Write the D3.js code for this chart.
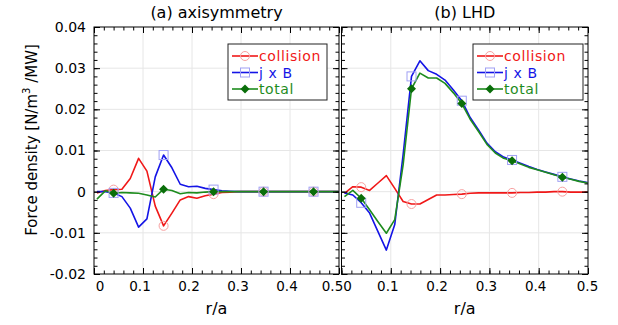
<!DOCTYPE html>
<html>
<head>
<meta charset="utf-8">
<script src="https://cdn.jsdelivr.net/npm/d3@7"></script>
<style>
  body { margin: 0; background: #fff; }
  svg { font-family: "DejaVu Sans", sans-serif; }
</style>
</head>
<body>
<div id="view"></div>
<script>
// r/a grid of the profiles
const rPoints = [0.006, 0.023, 0.040, 0.057, 0.074, 0.091, 0.108, 0.125, 0.142, 0.159,
                 0.176, 0.193, 0.210, 0.227, 0.244, 0.261, 0.278, 0.295, 0.312, 0.329,
                 0.346, 0.363, 0.380, 0.397, 0.414, 0.431, 0.448, 0.465, 0.482, 0.499];
const markerIdx = [2, 8, 14, 20, 26];

const xTicks = [0, 0.1, 0.2, 0.3, 0.4, 0.5];
const xTickLabels = ["0", "0.1", "0.2", "0.3", "0.4", "0.5"];
const yTicks = [-0.02, -0.01, 0, 0.01, 0.02, 0.03, 0.04];
const yTickLabels = ["-0.02", "-0.01", "0", "0.01", "0.02", "0.03", "0.04"];
const seriesNames = ["collision", "j x B", "total"];
const panelTitles = ["(a) axisymmetry", "(b) LHD"];

// (a) axisymmetry
const axiCollision = [-0.0003, 0.0003, 0.0005, 0.0006, 0.0032, 0.0081, 0.0050, -0.0035, -0.0083, -0.0052,
                      -0.0020, -0.0012, -0.0016, -0.0010, -0.0006, -0.0002, -0.0001, 0, 0, 0,
                      0, 0, 0, 0, 0, 0, 0, 0, 0, 0];
const axiJxB = [0, 0, -0.0003, -0.0012, -0.0040, -0.0086, -0.0066, 0.0036, 0.0089, 0.0058,
                0.0018, 0.0012, 0.0013, 0.0008, 0.0005, 0.0002, 0.0001, 0, 0, 0,
                0, 0, 0, 0, 0, 0, 0, 0, 0, 0];
const axiTotal = [-0.0018, 0.0002, -0.0004, -0.0002, -0.0003, -0.0004, -0.0008, -0.0013, 0.0006, 0.0003,
                  -0.0005, -0.0002, -0.0003, -0.0001, 0, 0, 0, 0, 0, 0,
                  0, 0, 0, 0, 0, 0, 0, 0, 0, 0];

// (b) LHD
const lhdCollision = [-0.0004, 0.0012, 0.0011, 0.0003, 0.0021, 0.0039, 0.0008, -0.0024, -0.0030, -0.0030,
                      -0.0019, -0.0008, -0.0008, -0.0007, -0.0006, -0.0004, -0.0003, -0.0003, -0.0003, -0.0003,
                      -0.0003, -0.0002, -0.0002, -0.0001, -0.0001, 0, 0, -0.0001, -0.0001, -0.0001];
const lhdJxB = [-0.0003, -0.0008, -0.0027, -0.0052, -0.0097, -0.0142, -0.0080, 0.0090, 0.0280, 0.0318,
                0.0294, 0.0285, 0.0271, 0.0247, 0.0221, 0.0180, 0.0150, 0.0118, 0.0097, 0.0084,
                0.0077, 0.0069, 0.0061, 0.0054, 0.0048, 0.0042, 0.0036, 0.0031, 0.0026, 0.0022];
const lhdTotal = [-0.0012, 0.0003, -0.0016, -0.0044, -0.0073, -0.0101, -0.0068, 0.0065, 0.0250, 0.0288,
                  0.0276, 0.0276, 0.0263, 0.0240, 0.0214, 0.0176, 0.0146, 0.0115, 0.0094, 0.0081,
                  0.0075, 0.0067, 0.0059, 0.0053, 0.0047, 0.0041, 0.0035, 0.0030, 0.0025, 0.0021];

const lineColors = ["#f01818", "#1414e6", "#1e8c1e"];

const svg = d3.select("#view").append("svg")
  .attr("width", 618)
  .attr("height", 325);

class ForcePanel {
  constructor(id, x0, x1, title, series, legendX, legendW) {
    this.id = id;
    this.x0 = x0;
    this.x1 = x1;
    this.top = 27;
    this.bottom = 274;
    this.mapX = d3.scaleLinear().domain([0, 0.5]).range([x0, x1]);
    this.mapY = d3.scaleLinear().domain([-0.02, 0.04]).range([this.bottom, this.top]);
    this.g = svg.append("g");
    this.series = series;
    this.title = title;
    this.legendX = legendX;
    this.legendW = legendW;
  }

  grid() {
    const g = this.g.append("g").attr("stroke", "#e6e6e6").attr("stroke-width", 1);
    g.selectAll(".gx").data(xTicks.slice(1, -1)).enter().append("line")
      .attr("x1", d => this.mapX(d)).attr("x2", d => this.mapX(d))
      .attr("y1", this.top).attr("y2", this.bottom);
    g.selectAll(".gy").data(yTicks.slice(1, -1)).enter().append("line")
      .attr("x1", this.x0).attr("x2", this.x1)
      .attr("y1", d => this.mapY(d)).attr("y2", d => this.mapY(d));
  }

  lines() {
    svg.append("clipPath").attr("id", "clip" + this.id)
      .append("rect")
      .attr("x", this.x0).attr("y", this.top)
      .attr("width", this.x1 - this.x0).attr("height", this.bottom - this.top);

    const line = d3.line()
      .x((d, i) => this.mapX(rPoints[i]))
      .y(d => this.mapY(d));

    const lg = this.g.append("g").attr("clip-path", `url(#clip${this.id})`);
    this.series.forEach((vals, s) => {
      lg.append("path")
        .attr("d", line(vals))
        .attr("fill", "none")
        .attr("stroke", lineColors[s])
        .attr("stroke-width", 1.6)
        .attr("stroke-linejoin", "round");
    });

    // markers on every sixth point
    this.series.forEach((vals, s) => {
      markerIdx.forEach(i => {
        drawMarker(lg, s, this.mapX(rPoints[i]), this.mapY(vals[i]));
      });
    });
  }

  axes(lastShift) {
    const g = this.g;
    const minorX = d3.range(0, 0.5001, 0.02);
    const minorY = d3.range(-0.02, 0.04001, 0.002);

    const put = (axis, tr) => {
      const a = g.append("g").attr("transform", tr).call(axis);
      a.select(".domain").remove();
      a.selectAll("line").attr("stroke", "#000");
    };
    put(d3.axisBottom(this.mapX).tickValues(xTicks).tickSize(-6).tickFormat(""), `translate(0,${this.bottom})`);
    put(d3.axisBottom(this.mapX).tickValues(minorX).tickSize(-3.5).tickFormat(""), `translate(0,${this.bottom})`);
    put(d3.axisTop(this.mapX).tickValues(xTicks).tickSize(-6).tickFormat(""), `translate(0,${this.top})`);
    put(d3.axisTop(this.mapX).tickValues(minorX).tickSize(-3.5).tickFormat(""), `translate(0,${this.top})`);
    put(d3.axisLeft(this.mapY).tickValues(yTicks).tickSize(-6).tickFormat(""), `translate(${this.x0},0)`);
    put(d3.axisLeft(this.mapY).tickValues(minorY).tickSize(-3.5).tickFormat(""), `translate(${this.x0},0)`);
    put(d3.axisRight(this.mapY).tickValues(yTicks).tickSize(-6).tickFormat(""), `translate(${this.x1},0)`);
    put(d3.axisRight(this.mapY).tickValues(minorY).tickSize(-3.5).tickFormat(""), `translate(${this.x1},0)`);

    g.append("rect")
      .attr("x", this.x0).attr("y", this.top)
      .attr("width", this.x1 - this.x0).attr("height", this.bottom - this.top)
      .attr("fill", "none").attr("stroke", "#000").attr("stroke-width", 1);

    // x tick labels (nudged like the original, so the two panels' labels don't collide)
    const xl = g.append("g").attr("transform", `translate(0,${this.bottom})`)
      .call(d3.axisBottom(this.mapX).tickValues(xTicks).tickSize(0).tickPadding(7)
        .tickFormat((d, i) => xTickLabels[i]));
    xl.select(".domain").remove();
    xl.attr("font-family", null).attr("font-size", 13.5);
    xl.selectAll("text").attr("fill", "#000")
      .attr("x", (d, i) => i === 0 ? 5.5 : (i === xTicks.length - 1 ? lastShift : -3.5));

    g.append("text")
      .attr("x", (this.x0 + this.x1) / 2).attr("y", 314)
      .attr("text-anchor", "middle").attr("font-size", 16)
      .text("r/a");

    g.append("text")
      .attr("x", (this.x0 + this.x1) / 2).attr("y", 18)
      .attr("text-anchor", "middle").attr("font-size", 16)
      .text(this.title);
  }

  legend() {
    const lx = this.legendX, ly = 44;
    const lg = this.g.append("g");
    lg.append("rect")
      .attr("x", lx).attr("y", ly).attr("width", this.legendW).attr("height", 56)
      .attr("fill", "#fff").attr("stroke", "#222").attr("stroke-width", 1);
    seriesNames.forEach((name, s) => {
      const yy = ly + 12 + s * 16.5;
      lg.append("line")
        .attr("x1", lx + 4).attr("x2", lx + 30)
        .attr("y1", yy).attr("y2", yy)
        .attr("stroke", lineColors[s]).attr("stroke-width", 1.6);
      drawMarker(lg, s, lx + 17, yy);
      lg.append("text")
        .attr("x", lx + 31).attr("y", yy + 5)
        .attr("font-size", 14).attr("letter-spacing", 0.6)
        .attr("fill", lineColors[s])
        .text(name);
    });
  }
}

function drawMarker(g, s, x, y) {
  if (s === 0) {
    g.append("circle").attr("cx", x).attr("cy", y).attr("r", 4.5)
      .attr("fill", "none").attr("stroke", "#f7a0a0").attr("stroke-width", 1);
  } else if (s === 1) {
    g.append("rect").attr("x", x - 4.5).attr("y", y - 4.5).attr("width", 9).attr("height", 9)
      .attr("fill", "none").attr("stroke", "#a0a0f4").attr("stroke-width", 1);
  } else {
    const h = 4.5;
    g.append("path")
      .attr("d", `M${x},${y - h}L${x + h},${y}L${x},${y + h}L${x - h},${y}Z`)
      .attr("fill", "#0a6e0a");
  }
}

const pa = new ForcePanel("a", 94, 339, panelTitles[0], [axiCollision, axiJxB, axiTotal], 228, 99);
pa.grid();
pa.lines();
pa.axes(-7);
pa.legend();

const pb = new ForcePanel("b", 341.5, 588, panelTitles[1], [lhdCollision, lhdJxB, lhdTotal], 473, 110);
pb.grid();
pb.lines();
pb.axes(-1);
pb.legend();

// y tick labels only on the left panel
const yl = svg.append("g").attr("transform", "translate(94,0)")
  .call(d3.axisLeft(pa.mapY).tickValues(yTicks).tickSize(0).tickPadding(8)
    .tickFormat((d, i) => yTickLabels[i]));
yl.select(".domain").remove();
yl.attr("font-family", null).attr("font-size", 14);
yl.selectAll("text").attr("fill", "#000");

const yTitle = svg.append("text")
  .attr("transform", "translate(37,140) rotate(-90)")
  .attr("text-anchor", "middle")
  .attr("font-size", 15);
yTitle.append("tspan").text("Force density [N/m");
yTitle.append("tspan").attr("font-size", 10).attr("dy", -7).text("3");
yTitle.append("tspan").attr("dy", 7).text(" /MW]");
</script>
</body>
</html>
